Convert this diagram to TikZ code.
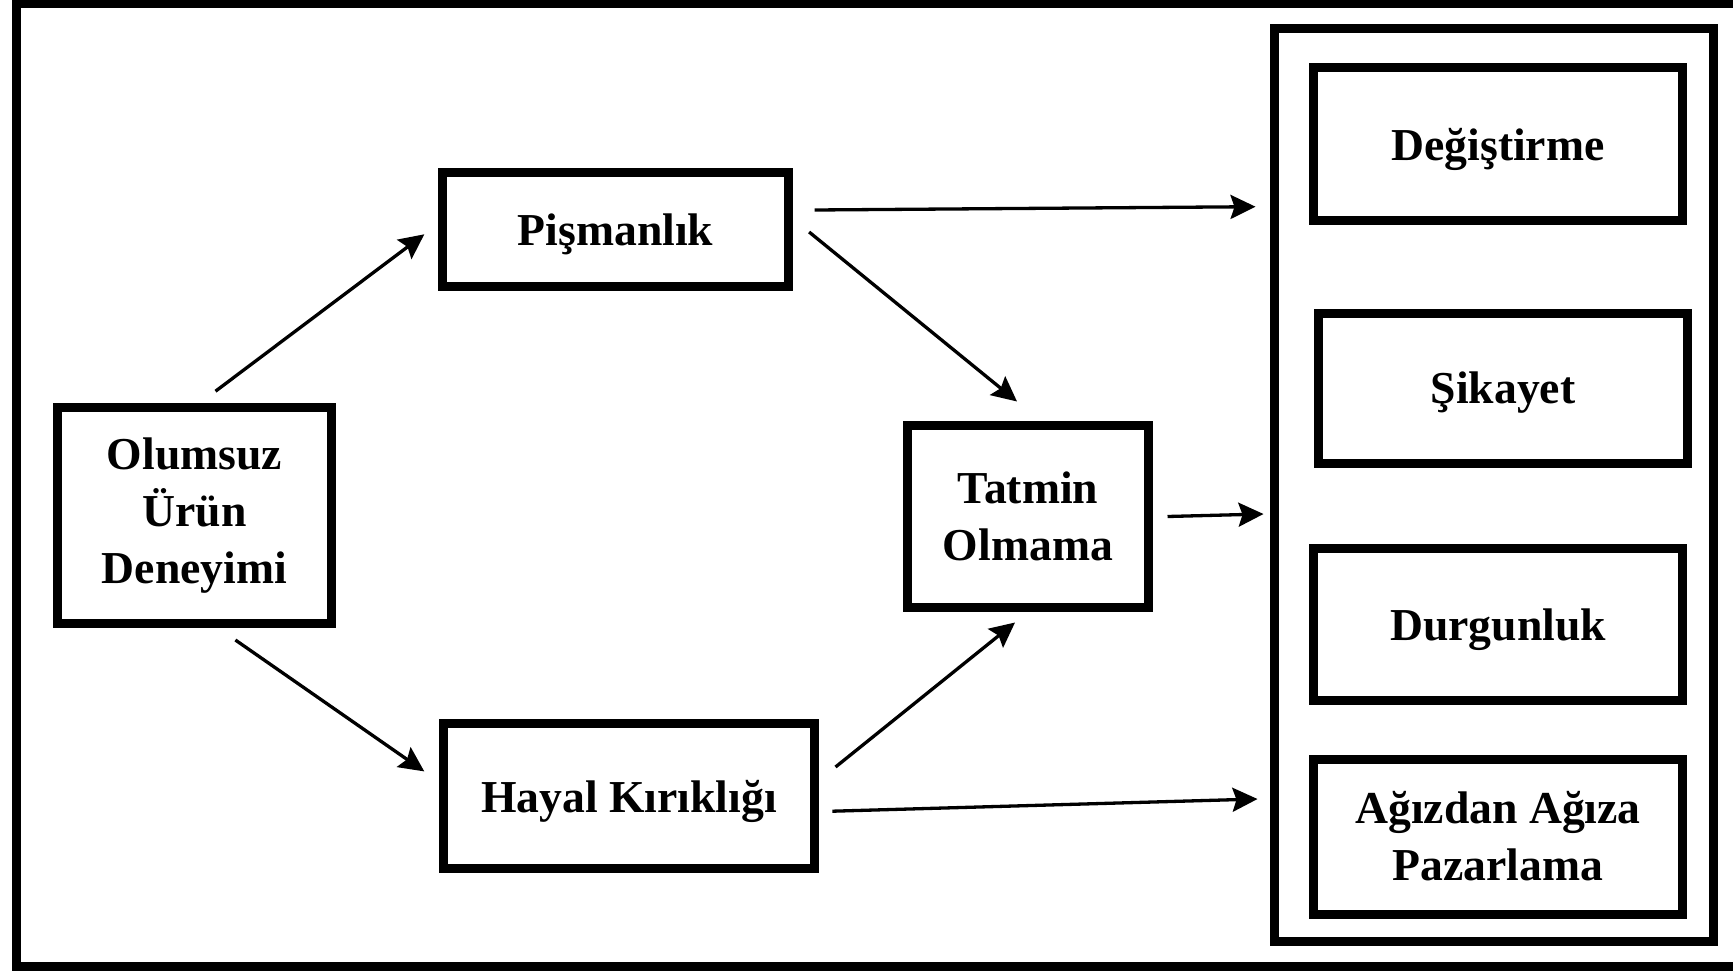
\documentclass[tikz,border=0pt]{standalone}
\usepackage{fontspec}
\setmainfont{Liberation Serif}
\usetikzlibrary{arrows.meta,positioning}
\definecolor{ink}{RGB}{0,0,0}
\tikzset{
  >={Stealth[length=2.5mm,width=2.4mm,inset=0.4mm]},
  box/.style={draw=ink,line width=0.9mm,align=center,inner sep=0pt,
    minimum width=#1,font=\fontsize{13}{16.2}\selectfont\bfseries},
  box/.default=3.69cm,
  oneline/.style={text depth=0pt},
  flow/.style={->,line width=0.33mm,draw=ink},
  frame/.style={draw=ink,line width=0.9mm},
}
\begin{document}
\begin{tikzpicture}
  \useasboundingbox (0,0) rectangle (17.33,-9.70);
  \clip (0,0) rectangle (17.33,-9.70);
  \draw[frame] (0.16,-0.04) rectangle (17.6,-9.66);
  % left side
  \node[box=2.74cm,minimum height=2.16cm] (olum) at (1.945,-5.155) {Olumsuz\\Ürün\\Deneyimi};
  \node[box=3.46cm,minimum height=1.14cm,oneline] (pis) at (6.155,-2.295) {Pişmanlık};
  \node[box=3.71cm,minimum height=1.45cm,oneline] (hay) at (6.29,-7.96) {Hayal Kırıklığı};
  \node[box=2.41cm,minimum height=1.82cm] (tat) at (10.28,-5.165) {Tatmin\\Olmama};
  % outcomes
  \node[frame,minimum width=4.39cm,minimum height=9.13cm] (cont) at (14.94,-4.85) {};
  \node[box,minimum height=1.53cm,oneline] (deg) at (14.98,-1.44) {Değiştirme};
  \node[box,minimum height=1.50cm,oneline] (sik) at (15.03,-3.88) {Şikayet};
  \node[box,minimum height=1.52cm,oneline] (dur) at (14.98,-6.245) {Durgunluk};
  \node[box,minimum height=1.55cm] (agi) at (14.98,-8.365) {Ağızdan Ağıza\\Pazarlama};
  % arrows
  \draw[flow] ([shift={(0.21,0.118)}]olum.north) -- ([shift={(-0.137,-0.048)}]pis.west);
  \draw[flow] ([shift={(0.409,-0.12)}]olum.south) -- ([shift={(-0.147,0.246)}]hay.west);
  \draw[flow] ([shift={(0.161,-0.025)}]pis.east) -- ([shift={(-0.11,0.195)}]tat.north);
  \draw[flow] ([shift={(0.165,0.29)}]hay.east) -- ([shift={(-0.13,-0.105)}]tat.south);
  \draw[flow] ([shift={(0.215,0.195)}]pis.east) -- ([shift={(-0.145,2.783)}]cont.west);
  \draw[flow] ([shift={(0.145,0)}]tat.east) -- ([shift={(-0.065,-0.29)}]cont.west);
  \draw[flow] ([shift={(0.133,-0.152)}]hay.east) -- ([shift={(-0.125,-3.14)}]cont.west);
\end{tikzpicture}
\end{document}
